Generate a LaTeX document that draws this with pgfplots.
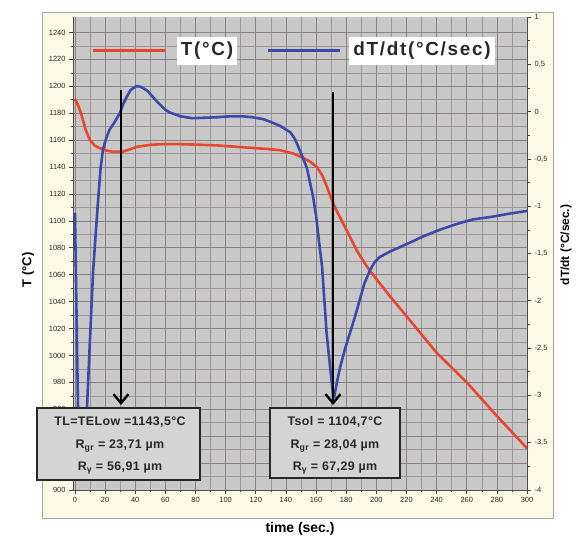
\documentclass[border=0pt]{standalone}
\usepackage{pgfplots}
\pgfplotsset{compat=1.18}
\usepackage{fontspec}
\setmainfont{Liberation Sans}
\newfontfamily\legfont[LetterSpace=9]{Liberation Sans}
\newfontfamily\boxfont[LetterSpace=3]{Liberation Sans}
\usetikzlibrary{arrows.meta}

\definecolor{plotbg}{RGB}{200,200,200}
\definecolor{gridc}{RGB}{138,130,130}
\definecolor{cream}{RGB}{252,250,228}
\definecolor{tred}{RGB}{232,70,45}
\definecolor{tblue}{RGB}{60,72,170}
\definecolor{boxfill}{RGB}{212,212,212}
\definecolor{txt}{RGB}{40,40,40}

\pgfplotstableread{
t T
0 1190.7
2 1186
4 1180
5.3 1175
7 1168
10 1160
13 1156
16.6 1154
20 1152.5
25 1151.3
32 1151.5
36 1153
41 1155
50 1156.5
58 1157
70 1157
85 1156.5
95 1156
107.5 1155
120 1154
127 1153.5
136 1152.5
145 1150
151 1147
156 1144
160.6 1140
164 1134
167 1126
170 1117
173 1109
178 1098
183 1087
187 1078
192 1069
196 1062.5
209 1044
222 1026.5
240 1002
260 980
280 955
300 931
}\Tdata

\pgfplotstableread{
t v
0 -1.07
1 -2.1
2 -3.12
3 -3.65
4.5 -3.85
6 -3.7
8 -3.12
10 -2.4
12 -1.70
13.5 -1.35
15.3 -0.95
17 -0.6
18.6 -0.40
21 -0.27
23 -0.19
26 -0.12
30 -0.01
32 0.08
34.5 0.16
37 0.23
41 0.27
44 0.26
48 0.22
52 0.15
56 0.08
60 0.02
63 -0.01
70 -0.05
78 -0.07
86 -0.065
94 -0.06
103 -0.05
111.5 -0.05
118 -0.06
125 -0.08
130 -0.11
136 -0.15
143 -0.22
146 -0.29
149 -0.40
152 -0.52
154 -0.6
156 -0.75
158 -0.9
160 -1.1
162 -1.38
164 -1.64
167 -2.34
169 -2.65
171 -2.95
172 -3.02
174 -2.85
176 -2.70
179 -2.52
182.5 -2.34
186 -2.16
189 -1.99
192 -1.82
196 -1.67
199 -1.59
202 -1.54
209 -1.48
216 -1.43
223 -1.38
231 -1.32
242 -1.25
253 -1.19
264 -1.14
277.5 -1.11
288 -1.08
300 -1.05
}\Vdata

\begin{document}
\begin{tikzpicture}[x=1bp,y=1bp]
\fill[white] (0,0) rectangle (576,541);
\useasboundingbox (0,0) rectangle (576,541);
\filldraw[fill=cream, draw=gray!70, line width=0.8pt] (42,23) rectangle (553,529);

\begin{axis}[
  at={(73bp,51bp)}, anchor=south west,
  width=454bp, height=473bp, scale only axis,
  xmin=-1.3, xmax=300, ymin=900, ymax=1251.5,
  axis y line*=left, axis x line*=bottom,
  axis line style={draw=gray!60!black, line width=0.6pt, -},
  xtick={0,20,...,300}, minor x tick num=1,
  ytick={900,920,...,1240}, minor y tick num=1,
  grid=both,
  major grid style={draw=gridc, line width=0.7pt},
  minor grid style={draw=gridc!85, line width=0.55pt},
  tick align=outside, major tick length=4bp, minor tick length=2.5bp,
  tick style={draw=gray!50!black, line width=0.6pt},
  axis background/.style={fill=plotbg},
  tick label style={font=\fontsize{7.5}{8}\selectfont, text=txt},
  /pgf/number format/assume math mode=true,
  /pgf/number format/1000 sep={},
]
\addplot[tred, line width=2.6pt, line join=round] table[x=t, y=T] {\Tdata};
\end{axis}

\begin{axis}[
  at={(73bp,51bp)}, anchor=south west,
  width=454bp, height=473bp, scale only axis,
  xmin=-1.3, xmax=300, ymin=-4, ymax=1,
  axis y line*=right, axis x line=none,
  axis line style={draw=gray!60!black, line width=0.6pt, -},
  ytick={-4,-3.5,-3,-2.5,-2,-1.5,-1,-0.5,0,0.5,1}, minor y tick num=1,
  tick align=outside, major tick length=4bp, minor tick length=2.5bp,
  tick style={draw=gray!50!black, line width=0.6pt},
  tick label style={font=\fontsize{7.5}{8}\selectfont, text=txt},
  /pgf/number format/assume math mode=true,
  /pgf/number format/use comma,
]
\addplot[tblue, line width=2.6pt, line join=round] table[x=t, y=v] {\Vdata};
\end{axis}

% legend
\draw[tred, line width=3pt] (93,490) -- (165,490);
\node[fill=white, inner xsep=4pt, inner ysep=5pt, font=\legfont\bfseries\fontsize{19}{21}\selectfont, text=txt] at (207,490) {T(°C)};
\draw[tblue, line width=3pt] (268,490) -- (340,490);
\node[fill=white, inner xsep=4pt, inner ysep=5pt, font=\legfont\bfseries\fontsize{19}{21}\selectfont, text=txt] at (422,490) {dT/dt(°C/sec)};

% arrows
\draw[line width=2.4pt, -{Straight Barb[length=9pt,width=15pt,line width=2.4pt]}] (121,451) -- (121,136);
\draw[line width=2.4pt, -{Straight Barb[length=9pt,width=15pt,line width=2.4pt]}] (333,449) -- (333,136);

% boxes
\filldraw[fill=boxfill, draw=txt, line width=1.6pt] (37,61) rectangle (200,133);
\node[font=\boxfont\bfseries\fontsize{12.5}{14}\selectfont, text=txt] at (120,119) {TL=TELow =1143,5°C};
\node[font=\boxfont\bfseries\fontsize{12.5}{14}\selectfont, text=txt] at (120,95) {R\textsubscript{gr} = 23,71 µm};
\node[font=\boxfont\bfseries\fontsize{12.5}{14}\selectfont, text=txt] at (120,73) {R\textsubscript{γ} = 56,91 µm};

\filldraw[fill=boxfill, draw=txt, line width=1.6pt] (270,63) rectangle (400,133);
\node[font=\boxfont\bfseries\fontsize{12.5}{14}\selectfont, text=txt] at (335,119) {Tsol = 1104,7°C};
\node[font=\boxfont\bfseries\fontsize{12.5}{14}\selectfont, text=txt] at (335,95) {R\textsubscript{gr} = 28,04 µm};
\node[font=\boxfont\bfseries\fontsize{12.5}{14}\selectfont, text=txt] at (335,73) {R\textsubscript{γ} = 67,29 µm};

% axis titles
\node[rotate=90, font=\bfseries\fontsize{13}{15}\selectfont] at (28,271) {T (°C)};
\node[font=\bfseries\fontsize{14}{16}\selectfont] at (300,12) {time (sec.)};
\node[rotate=90, font=\bfseries\fontsize{12}{14}\selectfont] at (566,296) {dT/dt (°C/sec.)};
\end{tikzpicture}
\end{document}
